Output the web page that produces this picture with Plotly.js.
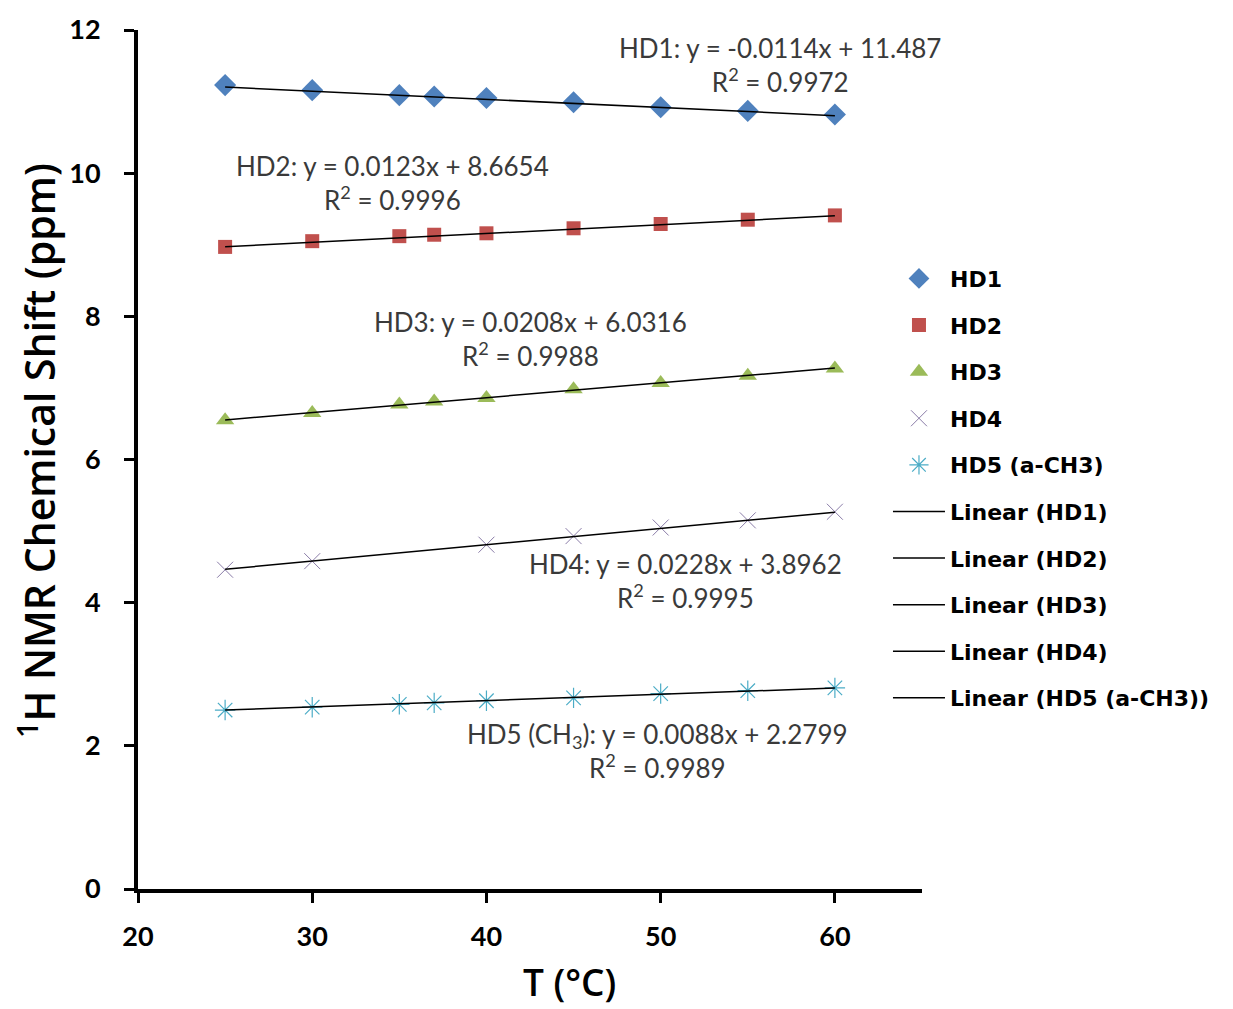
<!DOCTYPE html>
<html>
<head>
<meta charset="utf-8">
<script src="https://cdn.plot.ly/plotly-3.0.1.min.js"></script>
<style>
  html, body { margin: 0; padding: 0; background: #fff; }
  #chart { width: 1233px; height: 1009px; }
</style>
</head>
<body>
<div id="chart"></div>
<script>
// Temperature (°C) and 1H chemical shifts (ppm) per proton
const tempAll = [25, 30, 35, 37, 40, 45, 50, 55, 60];
const tempHD4 = [25, 30, 40, 45, 50, 55, 60];

const hd1 = [11.23, 11.16, 11.09, 11.07, 11.05, 10.99, 10.92, 10.87, 10.82];
const hd2 = [8.97, 9.05, 9.12, 9.14, 9.16, 9.23, 9.29, 9.35, 9.41];
const hd3 = [6.55, 6.65, 6.77, 6.81, 6.86, 6.98, 7.07, 7.17, 7.27];
const hd4 = [4.46, 4.58, 4.81, 4.93, 5.05, 5.15, 5.27];
const hd5 = [2.50, 2.54, 2.58, 2.60, 2.63, 2.67, 2.73, 2.77, 2.81];

const seriesNames = ['HD1', 'HD2', 'HD3', 'HD4', 'HD5 (a-CH3)'];

// Linear fit coefficients (slope, intercept) and R²
const slopes = [-0.0114, 0.0123, 0.0208, 0.0228, 0.0088];
const intercepts = [11.487, 8.6654, 6.0316, 3.8962, 2.2799];
const r2 = ['0.9972', '0.9996', '0.9988', '0.9995', '0.9989'];
const fitLabels = ['HD1', 'HD2', 'HD3', 'HD4', 'HD5 (CH<sub>3</sub>)'];
const fitRange = [25, 60];

// fit label anchor positions in data units
const labelX = [56.84, 34.58, 42.50, 51.45, 49.79];
const labelY = [11.51, 9.86, 7.68, 4.30, 1.93];

const xTicks = [20, 30, 40, 50, 60];
const xTitle = 'T (°C)';
const yTitle = '<sup>1</sup>H NMR Chemical Shift (ppm)';

const seriesX = [tempAll, tempAll, tempAll, tempHD4, tempAll];
const seriesY = [hd1, hd2, hd3, hd4, hd5];
const markerStyles = [
  {symbol: 'diamond', size: 17, color: '#4F81BD'},
  {symbol: 'square', size: 14, color: '#C0504D'},
  {symbol: 'triangle-up', size: 16, color: '#9BBB59'},
  {symbol: 'x-thin-open', size: 16, color: '#8A7CA8', line: {width: 1, color: '#8A7CA8'}},
  {symbol: 'asterisk-open', size: 17, color: '#4BACC6', line: {width: 1.2, color: '#4BACC6'}}
];

const FONT = 'Lato, "Open Sans", sans-serif';
const LEGEND_FONT = '"DejaVu Sans", sans-serif';
const TITLE_FONT = '"Open Sans", sans-serif';
const traces = [];

seriesNames.forEach((name, i) => {
  traces.push({
    type: 'scatter', mode: 'markers', name: name,
    x: seriesX[i], y: seriesY[i],
    marker: markerStyles[i],
    legendgroup: 'g' + i,
    cliponaxis: false
  });
});

seriesNames.forEach((name, i) => {
  const fx = fitRange.slice();
  const fy = fx.map(t => slopes[i] * t + intercepts[i]);
  traces.push({
    type: 'scatter', mode: 'lines', name: 'Linear (' + name + ')',
    x: fx, y: fy,
    line: {color: '#000', width: 1.5},
    legendgroup: 'f' + i
  });
});

const annotations = fitLabels.map((lab, i) => ({
  xref: 'x', yref: 'y', x: labelX[i], y: labelY[i],
  text: lab + ': y = ' + slopes[i] + 'x + ' + intercepts[i] + '<br>R<sup>2</sup> = ' + r2[i],
  showarrow: false, align: 'center',
  font: {family: FONT, size: 26, color: '#3a3a3a'}
}));

// axis titles placed as paper annotations
annotations.push({
  xref: 'paper', yref: 'paper', x: 0.551, y: -0.108,
  xanchor: 'center', yanchor: 'middle',
  text: xTitle, showarrow: false,
  font: {family: TITLE_FONT, size: 37, color: '#000', weight: 600}
});
annotations.push({
  xref: 'paper', yref: 'paper', x: -0.1288, y: 0.51,
  xanchor: 'center', yanchor: 'middle', textangle: -90,
  text: yTitle, showarrow: false,
  font: {family: TITLE_FONT, size: 41, color: '#000', weight: 600}
});

const layout = {
  width: 1233, height: 1009,
  margin: {l: 138, r: 311, t: 30, b: 120},
  paper_bgcolor: '#fff', plot_bgcolor: '#fff',
  showlegend: true,
  legend: {
    x: 0.9566, xanchor: 'left', y: 0.735, yanchor: 'top',
    traceorder: 'grouped', tracegroupgap: 15,
    itemwidth: 52,
    font: {family: LEGEND_FONT, size: 22, color: '#000', weight: 'bold'},
    bgcolor: 'rgba(0,0,0,0)'
  },
  xaxis: {
    range: [20, 65], tickvals: xTicks,
    showgrid: false, zeroline: false,
    showline: true, linecolor: '#000', linewidth: 4,
    ticks: 'outside', ticklen: 10, tickwidth: 3, tickcolor: '#000',
    ticklabelstandoff: 11,
    tickfont: {family: FONT, size: 27, color: '#000', weight: 'bold'}
  },
  yaxis: {
    range: [0, 12], dtick: 2,
    showgrid: false, zeroline: false,
    showline: true, linecolor: '#000', linewidth: 4,
    ticks: 'outside', ticklen: 10, tickwidth: 3, tickcolor: '#000',
    ticklabelstandoff: 18,
    tickfont: {family: FONT, size: 27, color: '#000', weight: 'bold'}
  },
  annotations: annotations
};

Plotly.newPlot('chart', traces, layout, {displayModeBar: false, staticPlot: true});
</script>
</body>
</html>
